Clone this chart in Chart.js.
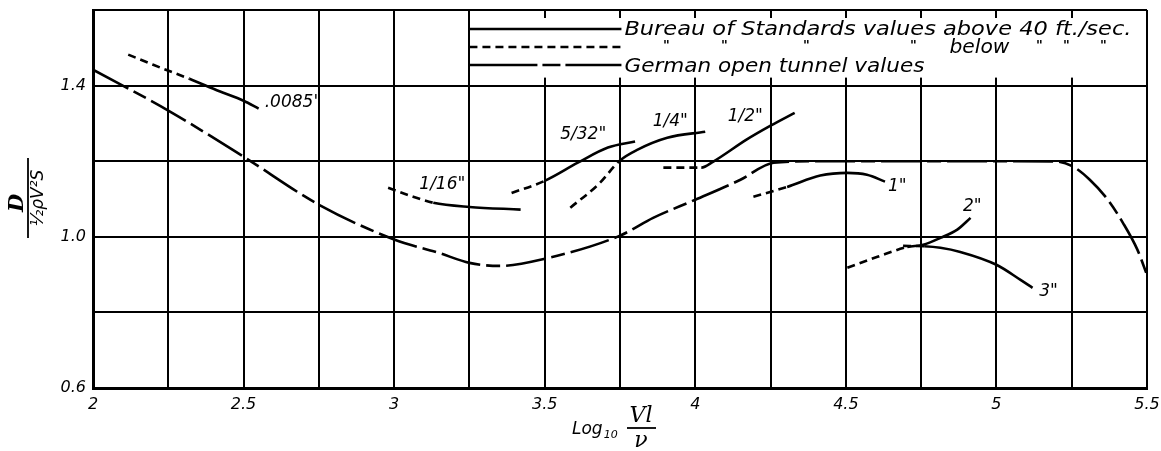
<!DOCTYPE html>
<html>
<head>
<meta charset="utf-8">
<script src="https://cdn.jsdelivr.net/npm/chart.js@4.4.0/dist/chart.umd.min.js"></script>
<style>
  html, body { margin: 0; padding: 0; background: #fff; }
</style>
</head>
<body>
<canvas id="grafico" width="1161" height="451"></canvas>
<script>
// tick labels
const xTickValues = [2, 2.5, 3, 3.5, 4, 4.5, 5, 5.5];
const xTickLabels = ["2", "2.5", "3", "3.5", "4", "4.5", "5", "5.5"];
const yTickValues = [0.6, 1.0, 1.4];
const yTickLabels = ["0.6", "1.0", "1.4"];

// German open tunnel values
const germanX = [2.0, 2.25, 2.5, 2.75, 3.0, 3.15, 3.25, 3.35, 3.5, 3.75, 3.86, 4.0, 4.15, 4.26, 4.4, 4.75, 5.0, 5.2, 5.256, 5.31, 5.37, 5.42, 5.468, 5.5];
const germanY = [1.442, 1.334, 1.212, 1.085, 0.993, 0.957, 0.931, 0.923, 0.942, 1.003, 1.05, 1.098, 1.151, 1.196, 1.2, 1.2, 1.2, 1.199, 1.185, 1.151, 1.098, 1.037, 0.966, 0.899];

// Bureau of Standards curves (dashed below 40 ft/sec, solid above)
const wire0085X = [2.117, 2.2, 2.32, 2.42, 2.5, 2.55];
const wire0085Y = [1.482, 1.455, 1.418, 1.385, 1.360, 1.339];
const wire1_16X = [2.98, 3.063, 3.13, 3.25, 3.42];
const wire1_16Y = [1.130, 1.106, 1.09, 1.079, 1.072];
const wire5_32X = [3.39, 3.50, 3.61, 3.71, 3.80];
const wire5_32Y = [1.116, 1.148, 1.196, 1.236, 1.252];
const wire1_4X = [3.585, 3.68, 3.75, 3.807, 3.907, 4.033];
const wire1_4Y = [1.077, 1.14, 1.202, 1.230, 1.262, 1.278];
const wire1_2X = [3.894, 4.02, 4.06, 4.17, 4.25, 4.33];
const wire1_2Y = [1.183, 1.183, 1.199, 1.257, 1.294, 1.328];
const wire1X = [4.193, 4.305, 4.415, 4.505, 4.57, 4.63];
const wire1Y = [1.106, 1.132, 1.162, 1.169, 1.164, 1.146];
const wire2X = [4.505, 4.605, 4.704, 4.757, 4.814, 4.87, 4.914];
const wire2Y = [0.918, 0.947, 0.973, 0.979, 0.997, 1.019, 1.05];
const wire3X = [4.69, 4.76, 4.814, 4.88, 5.0, 5.08, 5.12];
const wire3Y = [0.976, 0.975, 0.971, 0.960, 0.926, 0.886, 0.865];

// where each curve turns from dashed to solid
const splits = [2.32, 3.14, 3.5, 3.75, 4.03, 4.33, 4.72, 4.81];

const curveNames = ['.0085"', '1/16"', '5/32"', '1/4"', '1/2"', '1"', '2"', '3"'];

// label anchors (data coords)
const labelPos = [
  [2.664, 1.355], [3.16, 1.138], [3.628, 1.270], [3.917, 1.305],
  [4.166, 1.318], [4.671, 1.132], [4.92, 1.079], [5.173, 0.854]
];

const FONT = '"DejaVu Sans", sans-serif';
const SERIF = '"DejaVu Serif", serif';

function curva(xs, ys, split, dash) {
  const ds = {
    data: xs.map((x, i) => ({ x: x, y: ys[i] })),
    borderColor: "#000",
    borderWidth: 2.6,
    pointRadius: 0,
    showLine: true,
    fill: false,
    cubicInterpolationMode: "monotone",
    borderDash: dash || [],
  };
  if (split != null) {
    ds.segment = {
      borderDash: (c) => (c.p1.parsed.x <= split + 1e-9 ? [8, 5] : []),
    };
  }
  return ds;
}

const series = [
  [wire0085X, wire0085Y], [wire1_16X, wire1_16Y], [wire5_32X, wire5_32Y], [wire1_4X, wire1_4Y],
  [wire1_2X, wire1_2Y], [wire1X, wire1Y], [wire2X, wire2Y], [wire3X, wire3Y]
];

const datasets = [curva(germanX, germanY, null, [40, 6, 14, 6])];
series.forEach((s, i) => datasets.push(curva(s[0], s[1], splits[i])));

function fitText(ctx, txt, x, y, w) {
  const m = ctx.measureText(txt).width;
  ctx.save();
  ctx.translate(x, y);
  ctx.scale(w / m, 1);
  ctx.fillText(txt, 0, 0);
  ctx.restore();
}

const extras = {
  id: "extras",
  beforeDatasetsDraw(chart) {
    // blank the legend box
    const ctx = chart.ctx, xs = chart.scales.x, ys = chart.scales.y, a = chart.chartArea;
    ctx.save();
    ctx.fillStyle = "#fff";
    const l = xs.getPixelForValue(3.25) + 2, r = xs.getPixelForValue(5.5) - 2;
    ctx.fillRect(l, a.top + 8, r - l, ys.getPixelForValue(1.4) - a.top - 16);
    ctx.restore();
  },
  afterDatasetsDraw(chart) {
    const ctx = chart.ctx, xs = chart.scales.x, ys = chart.scales.y, a = chart.chartArea;
    ctx.save();
    ctx.strokeStyle = "#000";
    ctx.fillStyle = "#000";
    ctx.lineWidth = 2.6;

    // legend
    const lx0 = xs.getPixelForValue(3.25), lx1 = lx0 + 152;
    const rows = [a.top + 19, a.top + 37, a.top + 55];
    const dashes = [[], [8, 5], [68, 5, 18, 5]];
    rows.forEach((y, i) => {
      ctx.setLineDash(dashes[i]);
      ctx.beginPath();
      ctx.moveTo(lx0, y);
      ctx.lineTo(lx1, y);
      ctx.stroke();
    });
    ctx.setLineDash([]);
    ctx.textBaseline = "middle";
    ctx.textAlign = "left";
    ctx.font = "italic 19px " + FONT;
    fitText(ctx, "Bureau of Standards values above 40 ft./sec.", lx1 + 3, rows[0] + 1, 507);
    fitText(ctx, "German open tunnel values", lx1 + 3, rows[2] + 2, 300);
    fitText(ctx, "below", lx1 + 328, rows[1] + 1, 60);
    ctx.font = "bold 13px " + FONT;
    ctx.textAlign = "center";
    [45, 103, 185, 292, 418, 445, 482].forEach((dx) => ctx.fillText('"', lx1 + dx, rows[1] - 1));

    // curve labels
    ctx.font = "italic 17px " + FONT;
    curveNames.forEach((t, i) => {
      ctx.fillText(t, xs.getPixelForValue(labelPos[i][0]), ys.getPixelForValue(labelPos[i][1]));
    });

    // x axis title
    ctx.textAlign = "left";
    ctx.font = "italic 17px " + FONT;
    ctx.fillText("Log", 572, 430);
    const lw = ctx.measureText("Log").width;
    ctx.font = "italic 11px " + FONT;
    ctx.fillText("10", 572 + lw + 1, 435);
    ctx.font = "italic 22px " + SERIF;
    ctx.textAlign = "center";
    ctx.fillText("Vl", 641, 416);
    ctx.fillText("ν", 641, 441);
    ctx.lineWidth = 1.8;
    ctx.beginPath();
    ctx.moveTo(627, 428);
    ctx.lineTo(656, 428);
    ctx.stroke();

    // y axis title
    ctx.translate(28, 198);
    ctx.rotate(-Math.PI / 2);
    ctx.beginPath();
    ctx.moveTo(-40, 0);
    ctx.lineTo(40, 0);
    ctx.stroke();
    ctx.font = "bold italic 21px " + SERIF;
    ctx.fillText("D", -5, -10);
    ctx.font = "italic 17px " + FONT;
    ctx.fillText("½ρV²S", 0, 11);
    ctx.restore();
  },
};

const ctx = document.getElementById("grafico").getContext("2d");
new Chart(ctx, {
  type: "scatter",
  data: { datasets: datasets },
  plugins: [extras],
  options: {
    responsive: false,
    animation: false,
    layout: { padding: { left: 0, right: 14, top: 10, bottom: 0 } },
    plugins: { legend: { display: false }, tooltip: { enabled: false } },
    scales: {
      x: {
        type: "linear",
        min: 2,
        max: 5.5,
        afterFit: (s) => { s.height = 63; s.paddingLeft = 0; s.paddingRight = 0; },
        grid: { color: "#000", lineWidth: 2, drawTicks: false },
        border: { color: "#000", width: 3 },
        ticks: {
          stepSize: 0.25,
          autoSkip: false,
          maxRotation: 0,
          padding: 7,
          color: "#000",
          font: { family: FONT, size: 16, style: "italic" },
          callback: (v) => {
            const i = xTickValues.findIndex((t) => Math.abs(t - v) < 1e-6);
            return i >= 0 ? xTickLabels[i] : "";
          },
        },
      },
      y: {
        min: 0.6,
        max: 1.6,
        afterFit: (s) => { s.width = 93; s.paddingTop = 0; s.paddingBottom = 0; },
        grid: { color: "#000", lineWidth: 2, drawTicks: false },
        border: { color: "#000", width: 3 },
        ticks: {
          stepSize: 0.2,
          autoSkip: false,
          padding: 7,
          color: "#000",
          font: { family: FONT, size: 16, style: "italic" },
          callback: (v) => {
            const i = yTickValues.findIndex((t) => Math.abs(t - v) < 1e-6);
            return i >= 0 ? yTickLabels[i] : "";
          },
        },
      },
    },
  },
});
</script>
</body>
</html>
